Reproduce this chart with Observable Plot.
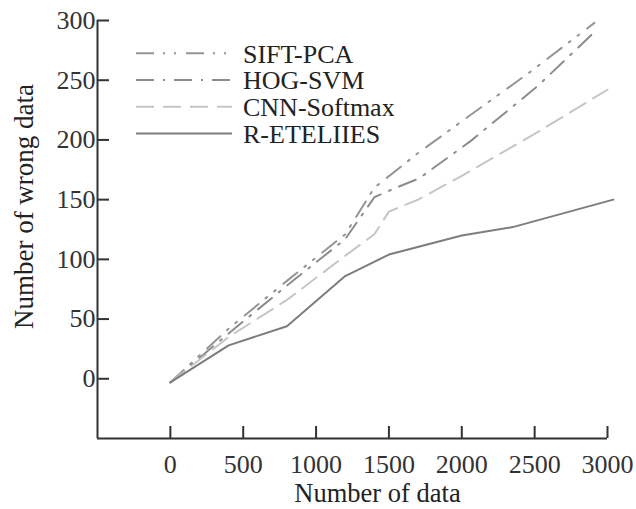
<!DOCTYPE html>
<html><head><meta charset="utf-8">
<script src="https://cdn.jsdelivr.net/npm/d3@7"></script>
<script src="https://cdn.jsdelivr.net/npm/@observablehq/plot@0.6"></script>
<style>body{margin:0;background:#fff}</style>
</head><body><div id="chart"></div>
<script>
// ---- data ----
const seriesNames = ["SIFT-PCA", "HOG-SVM", "CNN-Softmax", "R-ETELIIES"];
const siftX = [0, 400, 800, 1200, 1400, 1700, 2050, 2470, 2910];
const siftY = [-3, 42, 82, 121, 160, 189, 220, 257, 298];
const hogX  = [0, 400, 800, 1200, 1400, 1530, 1710, 2060, 2520, 2890];
const hogY  = [-3, 38, 78, 117, 152, 159, 168, 199, 245, 288];
const cnnX  = [0, 400, 800, 1200, 1400, 1500, 1700, 2000, 2500, 3000];
const cnnY  = [-3, 35, 66, 103, 121, 140, 150, 170, 205, 242];
const rX    = [0, 400, 800, 1200, 1500, 2000, 2350, 3040];
const rY    = [-3, 28, 44, 86, 104, 120, 127, 150];
const xTicks = [0, 500, 1000, 1500, 2000, 2500, 3000];
const yTicks = [0, 50, 100, 150, 200, 250, 300];
const xDomain = [-500, 3000];
const yDomain = [-50, 300];

const toRows = (xs, ys) => xs.map((x, i) => ({x, y: ys[i]}));
const styles = [
  {stroke: "#959595", dash: "18,9,2,9,2,10"},
  {stroke: "#8c8c8c", dash: "18,9,2,9"},
  {stroke: "#c6c6c6", dash: "18,9"},
  {stroke: "#7d7d7d", dash: null}
];
const seriesData = [toRows(siftX, siftY), toRows(hogX, hogY), toRows(cnnX, cnnY), toRows(rX, rY)];

const font = "Liberation Serif, Times New Roman, serif";
const svg = Plot.plot({
  width: 636, height: 509,
  marginLeft: 97, marginRight: 29, marginTop: 20, marginBottom: 71,
  x: {domain: xDomain},
  y: {domain: yDomain},
  style: {fontFamily: font, fontSize: "26px", color: "#222", background: "#fff"},
  marks: [
    Plot.ruleX([xDomain[0]], {stroke: "#333", strokeWidth: 2}),
    Plot.ruleY([yDomain[0]], {stroke: "#333", strokeWidth: 2}),
    Plot.axisX(xTicks, {tickSize: -12, tickPadding: 28, strokeWidth: 2, color: "#333", fontSize: 26, label: null, tickFormat: d => String(d)}),
    Plot.axisY(yTicks, {tickSize: -12, tickPadding: 14, strokeWidth: 2, color: "#333", fontSize: 26, label: null, tickFormat: d => String(d)}),
    ...seriesData.map((rows, i) => Plot.line(rows, {
      x: "x", y: "y", stroke: styles[i].stroke, strokeWidth: 2,
      strokeDasharray: styles[i].dash
    })),
    Plot.text(["Number of data"], {frameAnchor: "bottom", textAnchor: "middle", lineAnchor: "middle", dx: 25, dy: 55, fontSize: 26.5, fill: "#222"}),
    Plot.text(["Number of wrong data"], {frameAnchor: "left", textAnchor: "middle", lineAnchor: "middle", rotate: -90, dx: -73, dy: -23, fontSize: 27, fill: "#222"})
  ]
});

// legend inside the plot area
const g = d3.select(svg).append("g")
  .attr("font-family", font).attr("font-size", 26).attr("fill", "#222").attr("text-anchor", "start");
seriesNames.forEach((name, i) => {
  const y = 53.3 + i * 26.7;
  g.append("line").attr("x1", 136).attr("x2", 232).attr("y1", y).attr("y2", y)
    .attr("stroke", styles[i].stroke).attr("stroke-width", 2)
    .attr("stroke-dasharray", styles[i].dash);
  g.append("text").attr("x", 243).attr("y", y + 9.3).text(name);
});

document.getElementById("chart").appendChild(svg);
</script>
</body></html>
